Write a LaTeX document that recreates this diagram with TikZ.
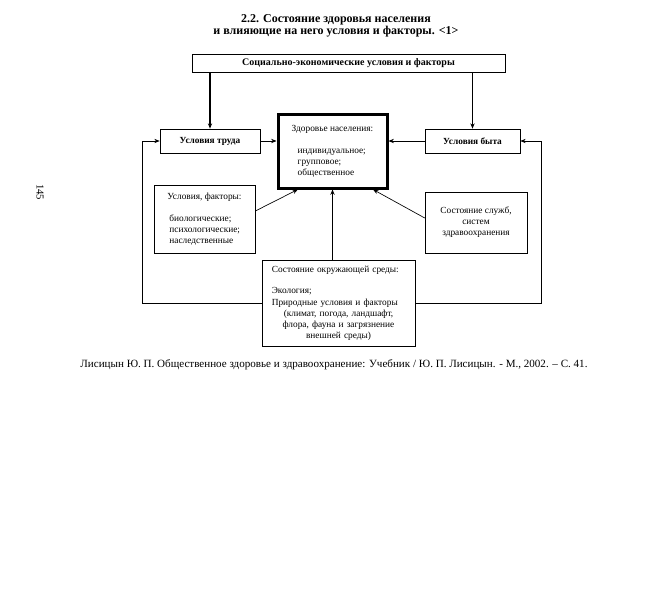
\documentclass[tikz,border=0pt]{standalone}
\usepackage{fontspec}
\setmainfont{Liberation Serif}
\usetikzlibrary{arrows.meta}

\tikzset{every picture/.style={line width=0.75pt}}
\tikzset{
  blk/.style={draw, line width=0.5pt, inner sep=0pt, font=\fontsize{7}{8.3}\selectfont},
  arr/.style={-{Stealth[length=4pt,width=3.2pt]}, line width=0.5pt},
  txt/.style={inner sep=0pt},
}

\begin{document}
\begin{tikzpicture}[x=0.75pt,y=0.75pt,yscale=-1,xscale=1]
	\path (0,0) rectangle (650,610); %set diagram 650 x 610

	% Text Node
	\draw (336,20) node [txt, font=\fontsize{9}{10}\selectfont\bfseries] (ttl1) {2.2. Состояние здоровья населения};
	% Text Node
	\draw (336,32) node [txt, font=\fontsize{9}{10}\selectfont\bfseries] (ttl2) {и влияющие на него условия и факторы. <1>};
	% Text Node
	\draw (40,192) node [txt, rotate=-90, font=\fontsize{8}{9}\selectfont] (pg) {145};

	%Shape: Rectangle
	\draw (348.5,63) node [blk, minimum width=234.75pt, minimum height=13.5pt, font=\fontsize{7.5}{8.3}\selectfont\bfseries] (soc) {Социально-экономические условия и факторы};
	%Shape: Rectangle
	\draw (210,141) node [blk, minimum width=75pt, minimum height=18pt, font=\fontsize{7}{8.3}\selectfont\bfseries] (trud) {Условия труда};
	%Shape: Rectangle
	\draw (472.5,141) node [blk, minimum width=71.25pt, minimum height=18pt, font=\fontsize{7}{8.3}\selectfont\bfseries] (byt) {Условия быта};
	%Shape: Rectangle
	\draw (332.5,151.5) node [blk, line width=2.25pt, minimum width=81.75pt, minimum height=54.75pt, align=left] (zdr) {Здоровье населения:\\[8pt]\hspace*{4.5pt}индивидуальное;\\\hspace*{4.5pt}групповое;\\\hspace*{4.5pt}общественное};
	%Shape: Rectangle
	\draw (204.5,219) node [blk, minimum width=75.75pt, minimum height=51pt, align=left] (fact) {Условия, факторы:\\[8pt]\hspace*{1.5pt}биологические;\\\hspace*{1.5pt}психологические;\\\hspace*{1.5pt}наследственные};
	%Shape: Rectangle
	\draw (476,222.5) node [blk, minimum width=76.5pt, minimum height=45.75pt, align=center] (sluzh) {Состояние служб,\\систем\\здравоохранения};
	%Shape: Rectangle
	\draw (338.5,303) node [blk, minimum width=114.75pt, minimum height=64.5pt, text width=100pt, align=left] (env) {Состояние окружающей среды:\\[8pt]Экология;\\Природные условия и факторы\par\centering(климат, погода, ландшафт,\\флора, фауна и загрязнение\\внешней среды)\par};

	\coordinate (fbl) at (142,303);
	\coordinate (fbr) at (541,303);

	%Straight Lines
	\draw [arr, line width=1pt] (soc.south -| trud.north) -- (trud.north);
	\draw [arr, line width=1pt] (soc.south -| byt.north) -- (byt.north);
	\draw [arr] (trud.east) -- (trud.east -| zdr.west);
	\draw [arr] (byt.west) -- (byt.west -| zdr.east);
	\draw [arr, line width=1pt] (env.north -| zdr.south) -- (zdr.south);
	\draw [arr] ([yshift=-6pt]fact.east) -- ([xshift=-26pt]zdr.south);
	\draw [arr] ([yshift=-3.4pt]sluzh.west) -- ([xshift=30.4pt]zdr.south);
	\draw [arr] (env.west) -- (fbl) |- (trud.west);
	\draw [arr] (env.east) -- (fbr) |- (byt.east);

	% Text Node
	\draw (334,365) node [txt, font=\fontsize{8.3}{9}\selectfont] (src) {Лисицын Ю. П. Общественное здоровье и здравоохранение: Учебник / Ю. П. Лисицын. - М., 2002. – С. 41.};

\end{tikzpicture}
\end{document}
